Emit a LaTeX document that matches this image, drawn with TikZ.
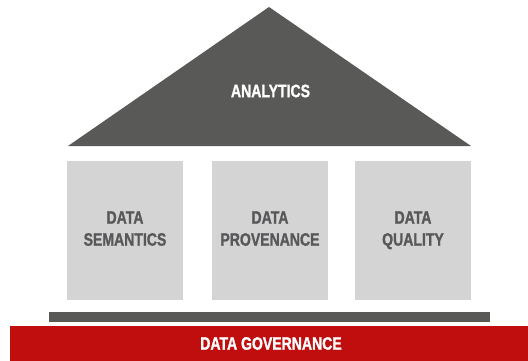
\documentclass[tikz,border=0pt]{standalone}
\usepackage{fontspec}
\setmainfont{Liberation Sans}[FakeStretch=0.78, BoldFont={Liberation Sans Bold}, BoldFeatures={FakeStretch=0.78, FakeBold=1.2}]
\definecolor{roofgray}{HTML}{595957}
\definecolor{pillargray}{HTML}{D4D4D4}
\definecolor{textgray}{HTML}{58585A}
\definecolor{govred}{HTML}{C00D0D}

\begin{document}
\begin{tikzpicture}[x=1pt,y=-1pt,
    label text/.style={font=\fontsize{18}{22}\selectfont\bfseries, align=center},
    pillar/.style={fill=pillargray, minimum width=116pt, minimum height=139pt,
      inner sep=0pt, text=textgray, label text,
      execute at begin node={\rule{0pt}{24pt}},
      execute at end node={\rule[-4pt]{0pt}{0pt}}}]
    \useasboundingbox (0,0) rectangle (528,361);
    % Draw the roof
    \fill[roofgray] (68,146) -- (269,7) -- (471,146) -- cycle;
    \node[label text, text=white] (analytics) at (270.5,91) {ANALYTICS};
    % Draw three pillars
    \foreach \x/\name/\txt in {125/sem/{DATA\\SEMANTICS},270/prov/{DATA\\PROVENANCE},413/qual/{DATA\\QUALITY}} {
      \node[pillar] (\name) at (\x,230.5) {\txt};
    }
    % Draw base and foundation
    \fill[roofgray] (49,312) rectangle (490,322);
    \fill[govred] (10,326) rectangle (528,361);
    \node[label text, text=white] (gov) at (271,343.5) {DATA GOVERNANCE};
  \end{tikzpicture}
\end{document}
